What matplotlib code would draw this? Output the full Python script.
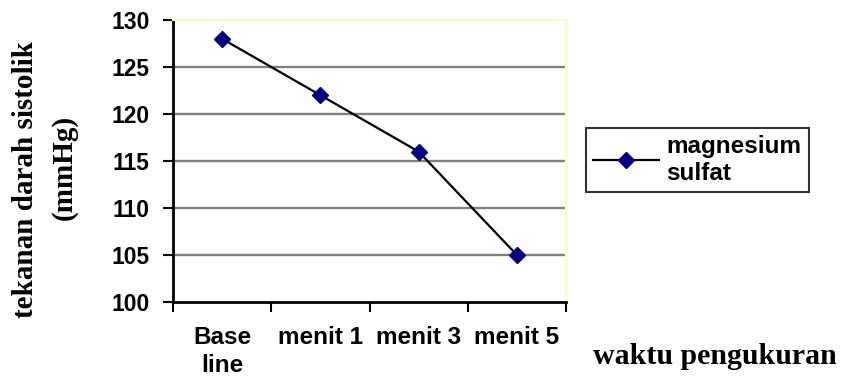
import matplotlib
matplotlib.use("Agg")
import matplotlib.pyplot as plt
import numpy as np

categories = ["Base\nline", "menit 1", "menit 3", "menit 5"]
values = [128, 122, 116, 105]
series_name = "magnesium\nsulfat"
yticks = [100, 105, 110, 115, 120, 125, 130]

W, H = 841, 385
fig = plt.figure(figsize=(W/100, H/100), dpi=100)
ax = fig.add_axes([173/W, 83/H, 393/W, 282/H])

x = np.arange(len(categories))
ax.plot(x, values, color="black", lw=1.6, marker="D", markersize=8,
        markerfacecolor="#000080", markeredgecolor="#000080", label=series_name, zorder=3)

ax.set_xlim(-0.5, len(categories) - 0.5)
ax.set_ylim(100, 130)
ax.set_yticks(yticks)
ax.set_yticklabels([str(v) for v in yticks], fontsize=16.5, fontweight="bold",
                   family="Liberation Sans")
for v in yticks[1:-1]:
    ax.axhline(v, color="#808080", lw=1.7, zorder=1)

ax.set_xticks(x)
ax.set_xticklabels(categories, fontsize=17.5, fontweight="bold", family="Liberation Sans",
                   linespacing=1.3)
ax.set_xticks(np.arange(-0.5, len(categories)), minor=True)
ax.tick_params(axis="x", which="major", length=0, pad=17)
ax.tick_params(axis="x", which="minor", length=7, width=1.5, direction="out")
ax.tick_params(axis="y", length=7, width=1.5, direction="out", pad=10)

ax.spines["left"].set_linewidth(2)
ax.spines["bottom"].set_linewidth(2)
ax.spines["top"].set_color("#FFFFC0")
ax.spines["right"].set_color("#FFFFC0")
ax.spines["top"].set_linewidth(1.5)
ax.spines["right"].set_linewidth(1.5)

fig.text(26/W, 1 - 180/H, "tekanan darah sistolik", fontsize=21, fontweight="bold",
         family="Liberation Serif", rotation=90, ha="center", va="center")
fig.text(64/W, 1 - 167/H, "(mmHg)", fontsize=21, fontweight="bold",
         family="Liberation Serif", rotation=90, ha="center", va="center")
fig.text(715/W, 1 - 357/H, "waktu pengukuran", fontsize=21.5, fontweight="bold",
         family="Liberation Serif", ha="center", va="center")

leg = ax.legend(loc="center left", bbox_to_anchor=(586/W, 1 - 160/H),
                bbox_transform=fig.transFigure, frameon=True, fancybox=False,
                prop={"family": "Liberation Sans", "weight": "bold", "size": 17.5},
                handlelength=2.7, handletextpad=0.3, borderpad=0.3, labelspacing=0.2,
                borderaxespad=0)
leg.get_frame().set_edgecolor("black")
leg.get_frame().set_linewidth(1.5)

fig.savefig("out.png", dpi=100)
